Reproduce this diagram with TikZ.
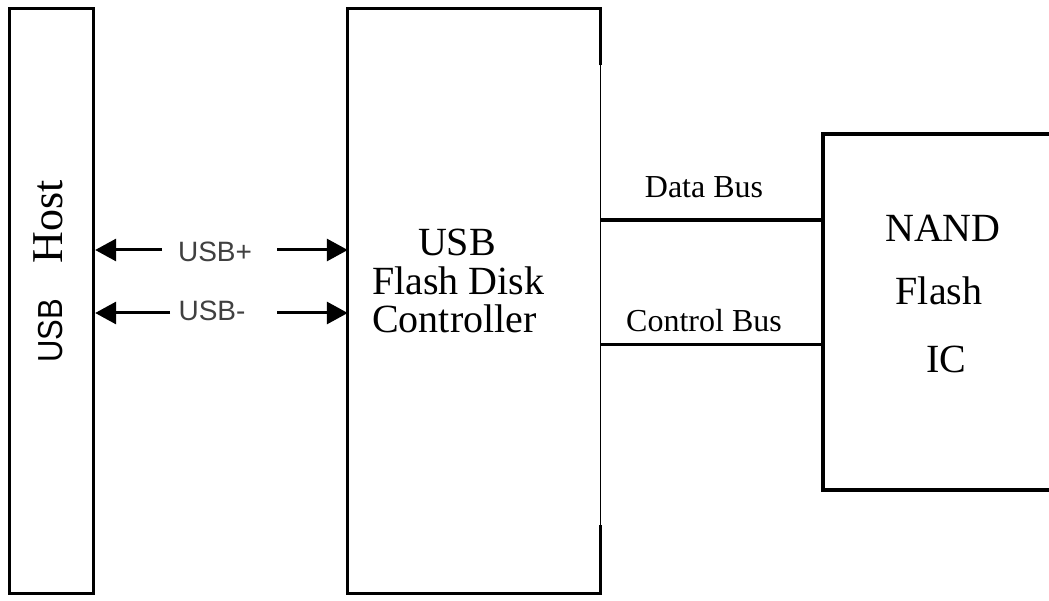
\documentclass[tikz,border=0pt]{standalone}
\usepackage{fontspec}
\setmainfont{Liberation Serif}
\setsansfont{Liberation Sans}
\usetikzlibrary{arrows.meta}
\begin{document}
\begin{tikzpicture}[x=1pt,y=-1pt,
  box/.style={draw,line width=3.3pt,rectangle,inner sep=0pt},
  nobox/.style={rectangle,inner sep=0pt},
  big/.style={font=\fontsize{40}{40}\selectfont,inner sep=0pt},
  buslbl/.style={font=\fontsize{32}{32}\selectfont,inner sep=0pt,anchor=base},
  usblbl/.style={font=\sffamily\fontsize{28}{28}\selectfont,text=black!75,inner sep=0pt,anchor=base},
  arr/.style={line width=3pt,-{Triangle[length=21pt,width=22pt]}},
  bus/.style={line width=3.8pt}]
\useasboundingbox (0,0) rectangle (1049,601);
% boxes
\node[box,minimum width=84pt,minimum height=585pt] (host) at (51.5,301) {};
\node[nobox,minimum width=252pt,minimum height=585pt] (ctrl) at (474,301) {};
\node[box,minimum width=237pt,minimum height=356pt] (nand) at (941.5,312) {};
% controller outline
\draw[line width=3.3pt] ([yshift=-57pt]ctrl.north east) -- (ctrl.north east) -- (ctrl.north west)
  -- (ctrl.south west) -- (ctrl.south east) -- ([yshift=69pt]ctrl.south east);
\draw[line width=1.3pt] ([yshift=-57pt]ctrl.north east) -- ([yshift=69pt]ctrl.south east);
% host text
\node[rotate=90,anchor=base,inner sep=0pt,font=\sffamily\fontsize{31}{31}\selectfont,yscale=1.12] (hostusb) at (62,331) {USB};
\node[rotate=90,anchor=base,inner sep=0pt,font=\fontsize{44}{44}\selectfont] (hosthost) at (62,222) {Host};
% controller text
\node[big,anchor=base] (c1) at (457,256) {USB};
\node[big,anchor=base west] (c2) at (372,295) {Flash Disk};
\node[big,anchor=base west] (c3) at (372,333) {Controller};
% nand text
\node[big,anchor=base] (n1) at (943,242) {NAND};
\node[big,anchor=base] (n2) at (939,305) {Flash};
\node[big,anchor=base] (n3) at (946,373) {IC};
% bus lines
\coordinate (db) at (600,220);
\coordinate (cb) at (600,345);
\draw[bus] (ctrl.east |- db) -- (nand.west |- db);
\draw[line width=3pt] (ctrl.east |- cb) -- (nand.west |- cb);
\node[buslbl] (dbl) at (704,198) {Data Bus};
\node[buslbl] (cbl) at (704,332) {Control Bus};
% USB arrows
\node[usblbl] (up) at (215,262) {USB+};
\node[usblbl] (um) at (212,321) {USB-};
\coordinate (up1) at (162,250);
\coordinate (up2) at (277,250);
\coordinate (um1) at (170,313);
\coordinate (um2) at (277,313);
\draw[arr] (up1) -- (host.east |- up1);
\draw[arr] (up2) -- (ctrl.west |- up2);
\draw[arr] (um1) -- (host.east |- um1);
\draw[arr] (um2) -- (ctrl.west |- um2);
\end{tikzpicture}
\end{document}
